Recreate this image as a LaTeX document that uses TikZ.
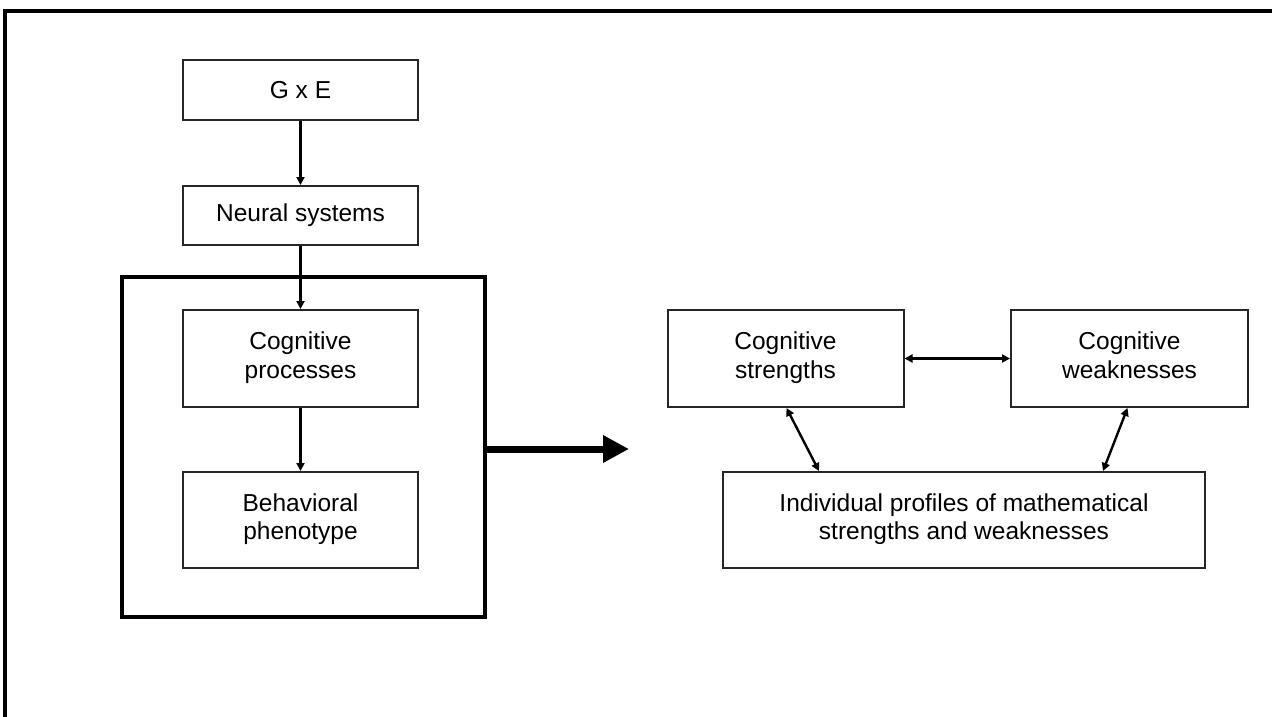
\documentclass[tikz,border=0pt]{standalone}
\usepackage{fontspec}
\setmainfont{Liberation Sans}
\usetikzlibrary{arrows.meta}
\begin{document}
\begin{tikzpicture}[x=1pt,y=-1pt,
  box/.style={draw=black!85, line width=2pt, fill=white, align=center,
    font=\fontsize{24.5}{28.5}\selectfont, inner sep=0pt},
  conn/.style={line width=2.4pt, -{Triangle[length=8pt,width=8pt]}},
  dconn/.style={line width=2.4pt, {Triangle[length=8pt,width=8pt]}-{Triangle[length=8pt,width=8pt]}}]
\useasboundingbox (0,0) rectangle (1272,717);
\fill[white] (0,0) rectangle (1272,717);
% outer frame (only top and left visible)
\draw[line width=3.2pt] (1290,11) -- (5,11) -- (5,735);
% big enclosing box
\node[draw, line width=3.2pt, minimum width=363pt, minimum height=340pt, inner sep=0pt] (big) at (303.5,447) {};
\node[box, minimum width=235pt, minimum height=60pt] (gxe) at (300.5,90) {G x E};
\node[box, minimum width=235pt, minimum height=59pt] (neural) at (300.5,215.5) {Neural systems};
\node[box, minimum width=235pt, minimum height=97pt] (cog) at (300.5,358.5) {\strut Cognitive\\\strut processes};
\node[box, minimum width=235pt, minimum height=96pt] (beh) at (300.5,520) {\strut Behavioral\\\strut phenotype};
\node[box, minimum width=236pt, minimum height=97pt] (str) at (785.5,358.5) {\strut Cognitive\\\strut strengths};
\node[box, minimum width=237pt, minimum height=97pt] (weak) at (1129.5,358.5) {\strut Cognitive\\\strut weaknesses};
\node[box, minimum width=482pt, minimum height=96pt] (ind) at (964,520) {\strut Individual profiles of mathematical\\\strut strengths and weaknesses};
\coordinate (tip) at (629,449);
\draw[conn] (gxe) -- (neural);
\draw[conn] (neural) -- (cog);
\draw[conn] (cog) -- (beh);
\draw[line width=7pt, -{Triangle[length=26pt,width=26pt]}] (big.east |- tip) -- (tip);
\draw[dconn] (str) -- (weak);
\draw[dconn] ([xshift=1pt]str.south) -- ([xshift=-145pt]ind.north);
\draw[dconn] ([xshift=-2pt]weak.south) -- ([xshift=139pt]ind.north);
\end{tikzpicture}
\end{document}
